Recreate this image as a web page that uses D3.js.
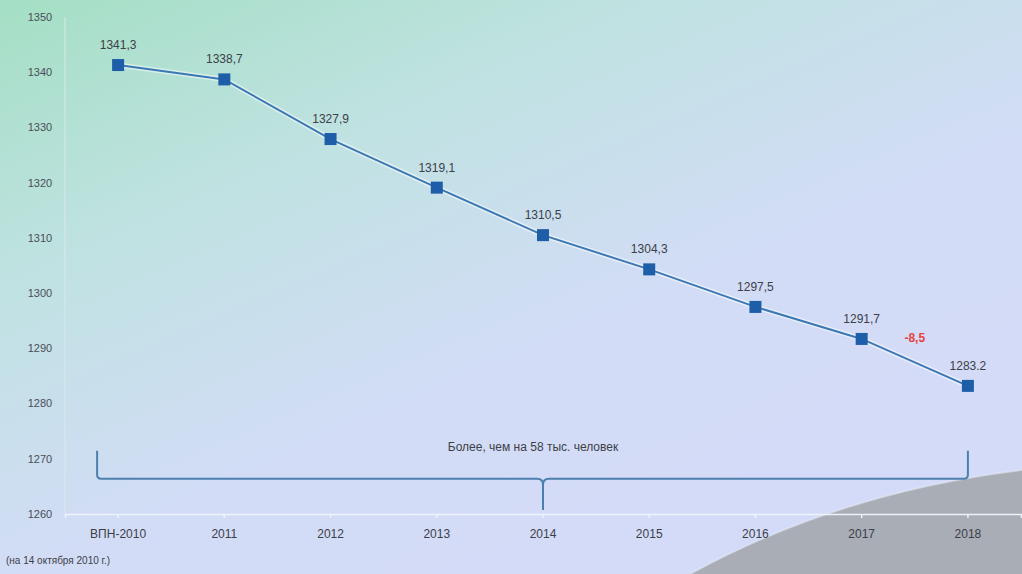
<!DOCTYPE html>
<html>
<head>
<meta charset="utf-8">
<script src="https://cdn.jsdelivr.net/npm/d3@7"></script>
<style>
  body { margin: 0; overflow: hidden; }
  svg { display: block; font-family: "Liberation Sans Narrow", "Liberation Sans", Arial, sans-serif; }
</style>
</head>
<body>
<svg id="chart"></svg>
<script>
// Population values, thousand people
const categories = ["ВПН-2010", "2011", "2012", "2013", "2014", "2015", "2016", "2017", "2018"];
const values = [1341.3, 1338.7, 1327.9, 1319.1, 1310.5, 1304.3, 1297.5, 1291.7, 1283.2];
const valueLabels = ["1341,3", "1338,7", "1327,9", "1319,1", "1310,5", "1304,3", "1297,5", "1291,7", "1283.2"];
const yTicks = [1260, 1270, 1280, 1290, 1300, 1310, 1320, 1330, 1340, 1350];
const deltaLabel = "-8,5";
const braceLabel = "Более, чем на 58 тыс. человек";
const footnote = "(на 14 октября 2010 г.)";

const width = 1022, height = 574;
const margin = { top: 17, right: 1, bottom: 60, left: 65 };

const svg = d3.select("#chart")
    .attr("width", width)
    .attr("height", height);

// Background gradient
const defs = svg.append("defs");
const grad = defs.append("linearGradient")
    .attr("id", "bg")
    .attr("x1", "0").attr("y1", "0")
    .attr("x2", "0.7").attr("y2", "0.9");
grad.append("stop").attr("offset", "0").attr("stop-color", "#a4dfc4");
grad.append("stop").attr("offset", "0.35").attr("stop-color", "#c0e2e2");
grad.append("stop").attr("offset", "0.7").attr("stop-color", "#d2dcf6");
grad.append("stop").attr("offset", "1").attr("stop-color", "#d4dbf8");

svg.append("rect")
    .attr("width", width)
    .attr("height", height)
    .attr("fill", "url(#bg)");

// Scales
const x = d3.scaleBand()
    .domain(categories)
    .range([margin.left, width - margin.right]);

const y = d3.scaleLinear()
    .domain([1260, 1350])
    .range([height - margin.bottom, margin.top]);

const cx = d => x(d) + x.bandwidth() / 2;

// Grey swoosh bottom right
svg.append("path")
    .attr("d", "M690,574 Q840,492 1022,470 L1022,574 Z")
    .attr("fill", "#a9adb6");
svg.append("path")
    .attr("d", "M690,574 Q840,492 1022,470")
    .attr("fill", "none")
    .attr("stroke", "#e4e8f6")
    .attr("stroke-width", 2)
    .attr("opacity", 0.6);

// Axes (faint)
const xAxis = d3.axisBottom(x).tickSize(4).tickFormat("");
svg.append("g")
    .attr("transform", `translate(0, ${y(1260)})`)
    .call(xAxis)
    .call(g => g.selectAll("path, line").attr("stroke", "#eef2fb").attr("stroke-width", 1.5));

svg.append("line")
    .attr("x1", margin.left).attr("x2", margin.left)
    .attr("y1", y(1350)).attr("y2", y(1260))
    .attr("stroke", "#d8e8ec")
    .attr("stroke-width", 1);

// Y tick labels
svg.append("g")
    .selectAll("text")
    .data(yTicks)
    .join("text")
    .attr("x", 40)
    .attr("y", d => y(d))
    .attr("dy", "0.35em")
    .attr("text-anchor", "middle")
    .attr("font-size", 11)
    .attr("fill", "#4a4e58")
    .text(d => d);

// X labels
svg.append("g")
    .selectAll("text")
    .data(categories)
    .join("text")
    .attr("x", d => cx(d))
    .attr("y", y(1260) + 20)
    .attr("dy", "0.35em")
    .attr("text-anchor", "middle")
    .attr("font-size", 12)
    .attr("fill", "#3c4048")
    .text(d => d);

svg.append("text")
    .attr("x", 6)
    .attr("y", 564)
    .attr("font-size", 10)
    .attr("fill", "#3c4048")
    .text(footnote);

// Brace under data
const braceX0 = cx(categories[0]) - 21;
const braceX1 = cx(categories[categories.length - 1]);
const braceMid = cx("2014");
const braceTop = y(1270) - 8, braceY = y(1270) + 20, braceTip = y(1260) - 4;
svg.append("path")
    .attr("d", `M${braceX0},${braceTop} L${braceX0},${braceY - 4} Q${braceX0},${braceY} ${braceX0 + 4},${braceY}
        L${braceMid - 6},${braceY} Q${braceMid},${braceY} ${braceMid},${braceY + 6} L${braceMid},${braceTip}
        M${braceMid},${braceY + 6} Q${braceMid},${braceY} ${braceMid + 6},${braceY}
        L${braceX1 - 4},${braceY} Q${braceX1},${braceY} ${braceX1},${braceY - 4} L${braceX1},${braceTop}`)
    .attr("fill", "none")
    .attr("stroke", "#4d7fae")
    .attr("stroke-width", 2);

svg.append("text")
    .attr("x", braceMid - 10)
    .attr("y", y(1270) - 8)
    .attr("text-anchor", "middle")
    .attr("font-size", 12)
    .attr("fill", "#3c4048")
    .text(braceLabel);

// Line
const line = d3.line()
    .x((d, i) => cx(categories[i]))
    .y(d => y(d));

svg.append("path")
    .datum(values)
    .attr("d", line)
    .attr("fill", "none")
    .attr("stroke", "#ffffff")
    .attr("stroke-opacity", 0.5)
    .attr("stroke-width", 5);

svg.append("path")
    .datum(values)
    .attr("d", line)
    .attr("fill", "none")
    .attr("stroke", "#3b78b4")
    .attr("stroke-width", 2);

// Markers
svg.append("g")
    .selectAll("rect")
    .data(values)
    .join("rect")
    .attr("x", (d, i) => cx(categories[i]) - 6)
    .attr("y", d => y(d) - 6)
    .attr("width", 12)
    .attr("height", 12)
    .attr("fill", "#1e5ea8");

// Value labels
svg.append("g")
    .selectAll("text")
    .data(values)
    .join("text")
    .attr("x", (d, i) => cx(categories[i]))
    .attr("y", d => y(d) - 16)
    .attr("text-anchor", "middle")
    .attr("font-size", 12)
    .attr("fill", "#3c4048")
    .text((d, i) => valueLabels[i]);

// Difference label between the last two points
svg.append("text")
    .attr("x", (cx("2017") + cx("2018")) / 2)
    .attr("y", (y(values[7]) + y(values[8])) / 2 - 20)
    .attr("text-anchor", "middle")
    .attr("font-size", 12)
    .attr("font-weight", "bold")
    .attr("fill", "#e8413c")
    .text(deltaLabel);
</script>
</body>
</html>
